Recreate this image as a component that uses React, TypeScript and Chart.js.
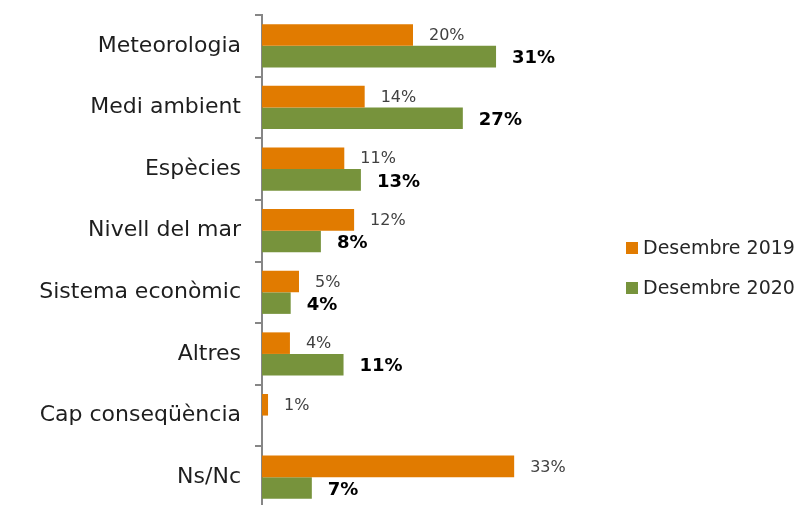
import React, { useEffect, useRef } from "react";
import { Chart, registerables } from "chart.js";

Chart.register(...registerables);

const categories = [
  "Meteorologia",
  "Medi ambient",
  "Espècies",
  "Nivell del mar",
  "Sistema econòmic",
  "Altres",
  "Cap conseqüència",
  "Ns/Nc",
];
const seriesNames = ["Desembre 2019", "Desembre 2020"];
const values2019 = [20.0, 13.6, 10.9, 12.2, 4.9, 3.7, 0.8, 33.4];
const values2020 = [31.0, 26.6, 13.1, 7.8, 3.8, 10.8, null, 6.6];
const seriesColors = ["#E17B00", "#77933C"];
const xMax = 40;

const FONT = '"DejaVu Sans", sans-serif';

const valueLabelPlugin = {
  id: "valueLabels",
  afterDatasetsDraw(chart: any) {
    const ctx = chart.ctx;
    ctx.save();
    ctx.textBaseline = "middle";
    ctx.textAlign = "left";
    chart.data.datasets.forEach((ds: any, i: number) => {
      const meta = chart.getDatasetMeta(i);
      const bold = i === 1;
      ctx.font = (bold ? "bold 18px " : "16px ") + FONT;
      ctx.fillStyle = bold ? "#000000" : "#404040";
      meta.data.forEach((bar: any, j: number) => {
        const v = ds.data[j];
        if (v === null || v === undefined) return;
        ctx.fillText(Math.round(v) + "%", bar.x + 16, bar.y + (bold ? 2 : 1));
      });
    });
    ctx.restore();
  },
};

const sideLegendPlugin = {
  id: "sideLegend",
  afterDraw(chart: any) {
    const ctx = chart.ctx;
    ctx.save();
    ctx.font = "19px " + FONT;
    ctx.textBaseline = "middle";
    ctx.textAlign = "left";
    chart.data.datasets.forEach((ds: any, i: number) => {
      const cy = 248 + i * 40;
      ctx.fillStyle = ds.backgroundColor;
      ctx.fillRect(626, cy - 6, 12, 12);
      ctx.fillStyle = "#262626";
      ctx.fillText(ds.label, 643, cy + 1);
    });
    ctx.restore();
  },
};

export default function App() {
  const ref = useRef<HTMLCanvasElement | null>(null);
  useEffect(() => {
    if (!ref.current) return;
    const chart = new Chart(ref.current, {
      type: "bar",
      data: {
        labels: categories,
        datasets: [
          {
            label: seriesNames[0],
            data: values2019,
            backgroundColor: seriesColors[0],
            categoryPercentage: 0.7,
            barPercentage: 1.0,
          },
          {
            label: seriesNames[1],
            data: values2020 as any,
            backgroundColor: seriesColors[1],
            categoryPercentage: 0.7,
            barPercentage: 1.0,
          },
        ],
      },
      options: {
        indexAxis: "y",
        responsive: false,
        animation: false,
        layout: { padding: { top: 15, right: 805 - 262 - 302, bottom: 1, left: 0 } },
        plugins: {
          legend: { display: false },
          tooltip: { enabled: false },
        },
        scales: {
          x: { display: false, min: 0, max: xMax },
          y: {
            grid: {
              display: true,
              drawOnChartArea: false,
              drawTicks: true,
              tickLength: 7,
              offset: true,
              color: "#868686",
              lineWidth: 2,
            },
            border: { display: true, color: "#868686", width: 2 },
            ticks: { font: { family: FONT, size: 22 }, color: "#1e1e1e", padding: 14 },
            afterFit: (s: any) => {
              s.width = 262;
              s.paddingTop = 0;
              s.paddingBottom = 0;
            },
          },
        },
      },
      plugins: [valueLabelPlugin, sideLegendPlugin],
    });
    return () => chart.destroy();
  }, []);
  return (
    <div style={{ position: "fixed", top: 0, left: 0, width: 805, height: 509, background: "#fff" }}>
      <canvas ref={ref} width={805} height={509} style={{ display: "block" }} />
    </div>
  );
}
